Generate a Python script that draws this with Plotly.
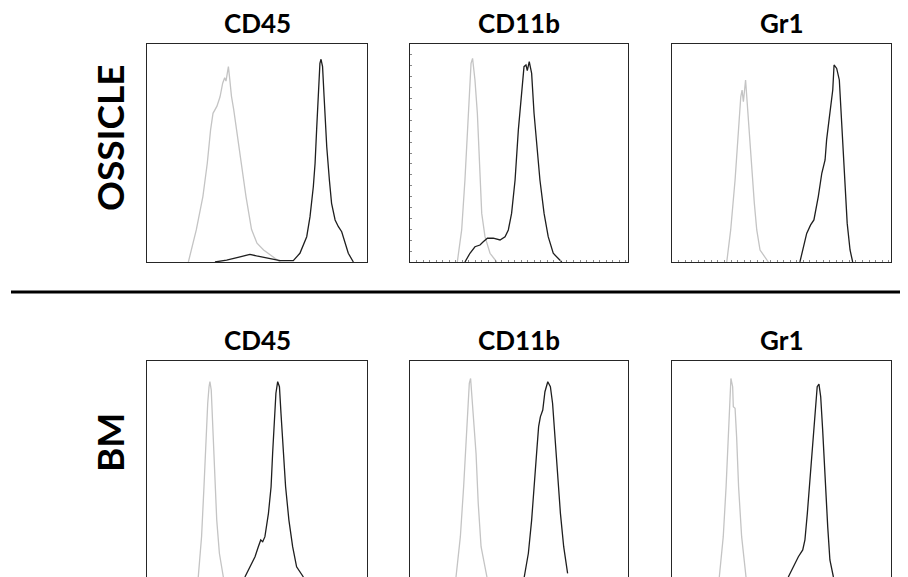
import plotly.graph_objects as go

# page is 908x577; the html body has an 8px margin, so the figure is drawn 8px smaller
PAGE_OFF = 8
W, H = 908 - PAGE_OFF, 577 - PAGE_OFF

markers = ["CD45", "CD11b", "Gr1"]
rows = ["OSSICLE", "BM"]

# ---- OSSICLE row ----
oss_cd45_ctrl_x = [18.8, 20.5, 22.4, 25.4, 27.4, 28.9, 30.0, 31.8, 33.2, 34.4, 35.3, 35.9, 37.0, 37.6, 38.4, 39.4, 41.1, 43.0, 45.0, 47.5, 50.0, 53.0, 57.4, 60.5]
oss_cd45_ctrl_y = [0, 7, 14.7, 30.0, 45.3, 60.6, 68.2, 71.5, 75.8, 82.0, 84.5, 83.0, 89.6, 84, 76, 70, 58, 45, 30, 15, 8.6, 5.5, 2.4, 0]
oss_cd45_stain_x = [30.9, 36.2, 42.3, 46.8, 49.8, 54.4, 60.5, 66.5, 69.5, 72.6, 74.1, 75.6, 76.4, 77.1, 77.9, 78.6, 79.1, 79.8, 80.5, 81.7, 82.9, 83.9, 85.5, 87.0, 88.5, 90.0, 91.5, 93.8]
oss_cd45_stain_y = [0, 0.9, 2.4, 3.5, 2.8, 1.7, 0.6, 0.6, 4.0, 11.6, 20.8, 34.5, 45.3, 60.6, 75.8, 91.1, 93.0, 89.6, 75.8, 52.9, 37.6, 26.9, 19.3, 16.2, 13.9, 8.6, 4.0, 0]

oss_cd11b_ctrl_x = [21.7, 23.7, 25.2, 26.3, 27.2, 28.0, 28.7, 29.8, 30.9, 31.8, 32.9, 34.4, 36.7, 39.8]
oss_cd11b_ctrl_y = [0, 14.7, 37.6, 60.6, 78.9, 91.1, 93.4, 83.5, 68.2, 45.3, 22.3, 11.6, 4.0, 0]
oss_cd11b_stain_x = [25.2, 27.5, 29.8, 32.1, 33.6, 35.5, 38.2, 41.3, 43.6, 45.1, 46.6, 48.2, 49.7, 51.2, 52.3, 53.2, 53.8, 54.7, 55.8, 56.9, 58.1, 59.6, 61.5, 63.4, 65.7, 69.6]
oss_cd11b_stain_y = [0, 4.0, 7.0, 7.8, 9.3, 10.9, 10.9, 10.1, 11.6, 14.7, 22.3, 37.6, 60.6, 78.9, 89.6, 90.4, 87.8, 91.9, 86.5, 68.2, 52.9, 37.6, 22.3, 11.6, 4.0, 0]

oss_gr1_ctrl_x = [25.0, 26.8, 28.8, 30.3, 31.4, 32.0, 32.6, 33.6, 34.4, 35.3, 36.4, 37.6, 38.7, 40.2, 44.0]
oss_gr1_ctrl_y = [0, 14.7, 37.6, 60.6, 75.8, 78.9, 73.5, 83.5, 71.2, 62.1, 45.3, 26.9, 14.7, 5.5, 0]
oss_gr1_stain_x = [58.4, 60.0, 61.5, 63.3, 64.8, 66.8, 68.4, 69.9, 70.6, 71.7, 72.6, 73.4, 74.0, 75.2, 76.4, 77.2, 77.9, 79.0, 80.0, 81.3, 82.5]
oss_gr1_stain_y = [0, 7.0, 13.1, 17.0, 19.3, 30.0, 40.7, 46.8, 56.0, 65.1, 71.2, 78.9, 90.4, 88.8, 83.5, 68.2, 52.9, 34.5, 17.7, 5.5, 0]

# ---- BM row ----
bm_cd45_ctrl_x = [23.3, 24.8, 25.9, 26.8, 27.6, 28.2, 28.6, 29.2, 29.8, 30.6, 31.7, 32.9, 34.7]
bm_cd45_ctrl_y = [0, 18.5, 41.4, 64.4, 79.7, 87.3, 89.6, 85.8, 72.0, 49.1, 26.1, 10.9, 0]
bm_cd45_stain_x = [44.5, 46.8, 49.1, 50.6, 51.7, 52.6, 53.6, 55.2, 56.4, 57.1, 57.9, 58.6, 59.4, 60.2, 60.9, 62.0, 63.0, 64.5, 66.2, 68.0, 71.1]
bm_cd45_stain_y = [0, 4.7, 9.3, 13.9, 17.0, 16.2, 18.5, 29.2, 41.4, 56.7, 72.0, 84.3, 89.6, 87.3, 75.1, 56.7, 41.4, 26.1, 13.9, 4.7, 0]

bm_cd11b_ctrl_x = [21.1, 23.1, 24.6, 25.7, 26.5, 27.2, 27.8, 28.6, 29.5, 30.3, 31.3, 32.6, 35.3]
bm_cd11b_ctrl_y = [0, 18.5, 41.4, 64.4, 79.7, 88.8, 91.1, 81.2, 70.5, 56.7, 33.8, 13.9, 0]
bm_cd11b_stain_x = [52.4, 54.3, 55.8, 57.0, 58.3, 59.0, 59.8, 60.9, 61.9, 63.2, 64.4, 65.4, 66.5, 67.7, 69.0, 70.5, 72.3]
bm_cd11b_stain_y = [0, 10.9, 26.1, 44.5, 59.8, 69.0, 73.5, 76.6, 85.0, 89.6, 87.3, 79.7, 64.4, 46.0, 29.2, 13.9, 1.7]

bm_gr1_ctrl_x = [21.6, 23.4, 24.7, 25.7, 26.5, 26.9, 27.7, 28.0, 28.8, 29.5, 30.4, 31.8, 33.8]
bm_gr1_ctrl_y = [0, 18.5, 41.4, 64.4, 82.7, 91.1, 87.3, 78.1, 77.4, 64.4, 41.4, 18.5, 0]
bm_gr1_stain_x = [53.1, 55.4, 57.7, 59.7, 60.7, 61.8, 63.0, 64.2, 65.3, 66.3, 67.1, 67.9, 68.8, 69.9, 71.1, 72.1, 73.7]
bm_gr1_stain_y = [0, 4.7, 9.3, 12.4, 17.0, 29.2, 44.5, 59.8, 75.1, 87.3, 88.5, 82.7, 67.4, 44.5, 23.1, 7.8, 0]

panels = [
    [(oss_cd45_ctrl_x, oss_cd45_ctrl_y, oss_cd45_stain_x, oss_cd45_stain_y),
     (oss_cd11b_ctrl_x, oss_cd11b_ctrl_y, oss_cd11b_stain_x, oss_cd11b_stain_y),
     (oss_gr1_ctrl_x, oss_gr1_ctrl_y, oss_gr1_stain_x, oss_gr1_stain_y)],
    [(bm_cd45_ctrl_x, bm_cd45_ctrl_y, bm_cd45_stain_x, bm_cd45_stain_y),
     (bm_cd11b_ctrl_x, bm_cd11b_ctrl_y, bm_cd11b_stain_x, bm_cd11b_stain_y),
     (bm_gr1_ctrl_x, bm_gr1_ctrl_y, bm_gr1_stain_x, bm_gr1_stain_y)],
]

# pixel layout in page coordinates
col_px = [(147, 367), (410, 628), (672, 891)]
row_px = [(44, 262), (361, 577)]
row_yrange = [[0, 100], [0, 99.1]]


def px(v):
    return (v - PAGE_OFF) / W


def py(v):
    return 1 - (v - PAGE_OFF) / H


CTRL_COLOR = "#c4c4c4"
STAIN_COLOR = "#1e1e1e"
BOX = "#262626"

fig = go.Figure()
layout = dict(width=W, height=H, margin=dict(l=0, r=0, t=0, b=0),
              paper_bgcolor="white", plot_bgcolor="white", showlegend=False)

annotations = []
shapes = []
n = 0
for r in range(2):
    for c in range(3):
        n += 1
        xa = "x" if n == 1 else f"x{n}"
        ya = "y" if n == 1 else f"y{n}"
        cx, cy, sx, sy = panels[r][c]
        fig.add_trace(go.Scatter(x=cx, y=cy, mode="lines", xaxis=xa, yaxis=ya,
                                 line=dict(color=CTRL_COLOR, width=1.3), hoverinfo="skip"))
        fig.add_trace(go.Scatter(x=sx, y=sy, mode="lines", xaxis=xa, yaxis=ya,
                                 line=dict(color=STAIN_COLOR, width=1.3), hoverinfo="skip"))
        x0, x1 = col_px[c]
        y0, y1 = row_px[r]
        xd = [px(x0), min(1, px(x1))]
        yd = [max(0, py(y1)), py(y0)]
        ticks_on = (r == 0 and c > 0)
        xkey = "xaxis" if n == 1 else f"xaxis{n}"
        ykey = "yaxis" if n == 1 else f"yaxis{n}"
        layout[xkey] = dict(domain=xd, range=[0, 100], anchor=ya,
                            showgrid=False, zeroline=False, showticklabels=False,
                            showline=True, linecolor=BOX, linewidth=1,
                            mirror=(r == 0), side=("bottom" if r == 0 else "top"),
                            ticks=("inside" if ticks_on else ""), ticklen=2,
                            tickcolor="#888", dtick=3, fixedrange=True)
        layout[ykey] = dict(domain=yd, range=row_yrange[r], anchor=xa,
                            showgrid=False, zeroline=False, showticklabels=False,
                            showline=True, linecolor=BOX, linewidth=1, mirror=True,
                            ticks=("inside" if (r == 0 and c == 1) else ""), ticklen=2,
                            tickcolor="#888", dtick=5, fixedrange=True)
        # column title
        annotations.append(dict(text=f"<b>{markers[c]}</b>", xref="paper", yref="paper",
                                x=px((x0 + x1) / 2), y=py(y0 - 4),
                                xanchor="center", yanchor="bottom", showarrow=False,
                                borderpad=0,
                                font=dict(family="Lato", size=26, color="black")))

# row labels
annotations.append(dict(text=f"<b>{rows[0]}</b>", xref="paper", yref="paper",
                        x=px(109), y=py(138), textangle=-90,
                        xanchor="center", yanchor="middle", showarrow=False,
                        font=dict(family="Lato", size=37, color="black")))
annotations.append(dict(text=f"<b>{rows[1]}</b>", xref="paper", yref="paper",
                        x=px(109), y=py(443), textangle=-90,
                        xanchor="center", yanchor="middle", showarrow=False,
                        font=dict(family="Lato", size=37, color="black")))

# separator line
shapes.append(dict(type="line", xref="paper", yref="paper",
                   x0=px(11), x1=1, y0=py(292), y1=py(292),
                   line=dict(color="black", width=3)))

layout["annotations"] = annotations
layout["shapes"] = shapes
fig.update_layout(**layout)
fig.write_html("out.html", config={"displayModeBar": False})
